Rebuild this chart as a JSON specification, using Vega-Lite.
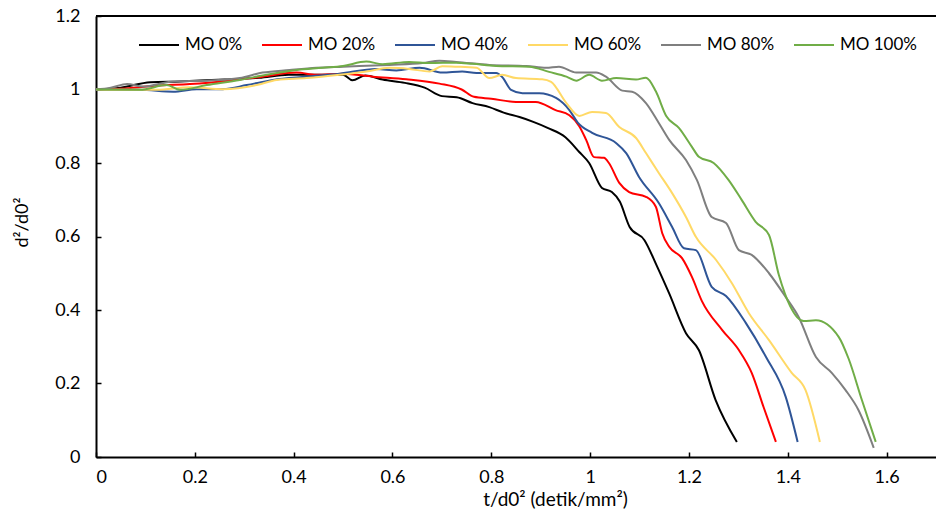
{
  "$schema": "https://vega.github.io/schema/vega-lite/v6.json",
  "autosize": "none",
  "width": 840,
  "height": 441,
  "padding": {"left": 96, "top": 16, "right": 0, "bottom": 59},
  "background": "white",
  "config": {
    "view": {"stroke": null},
    "font": "Lato",
    "axis": {
      "grid": false,
      "domainColor": "#000000",
      "domainWidth": 2,
      "tickColor": "#000000",
      "tickWidth": 1.5,
      "tickSize": -5,
      "labelFont": "Lato",
      "labelFontSize": 18,
      "labelColor": "#000000",
      "titleFont": "Lato",
      "titleFontSize": 18,
      "titleFontWeight": "normal",
      "titleColor": "#000000"
    }
  },
  "data": {
    "values": [
      {"s": "MO 0%", "x": 0, "y": 1},
      {"s": "MO 0%", "x": 0.05, "y": 1.005},
      {"s": "MO 0%", "x": 0.11, "y": 1.02},
      {"s": "MO 0%", "x": 0.17, "y": 1.022},
      {"s": "MO 0%", "x": 0.26, "y": 1.027},
      {"s": "MO 0%", "x": 0.33, "y": 1.032},
      {"s": "MO 0%", "x": 0.39, "y": 1.04},
      {"s": "MO 0%", "x": 0.46, "y": 1.04},
      {"s": "MO 0%", "x": 0.5, "y": 1.04},
      {"s": "MO 0%", "x": 0.519, "y": 1.025},
      {"s": "MO 0%", "x": 0.545, "y": 1.038},
      {"s": "MO 0%", "x": 0.58, "y": 1.027},
      {"s": "MO 0%", "x": 0.625, "y": 1.018},
      {"s": "MO 0%", "x": 0.665, "y": 1.005},
      {"s": "MO 0%", "x": 0.7, "y": 0.982},
      {"s": "MO 0%", "x": 0.73, "y": 0.979},
      {"s": "MO 0%", "x": 0.762, "y": 0.963},
      {"s": "MO 0%", "x": 0.796, "y": 0.952},
      {"s": "MO 0%", "x": 0.825, "y": 0.937},
      {"s": "MO 0%", "x": 0.857, "y": 0.925},
      {"s": "MO 0%", "x": 0.885, "y": 0.912},
      {"s": "MO 0%", "x": 0.915, "y": 0.895},
      {"s": "MO 0%", "x": 0.95, "y": 0.87},
      {"s": "MO 0%", "x": 0.978, "y": 0.83},
      {"s": "MO 0%", "x": 0.998, "y": 0.8},
      {"s": "MO 0%", "x": 1.024, "y": 0.732},
      {"s": "MO 0%", "x": 1.044, "y": 0.721},
      {"s": "MO 0%", "x": 1.06, "y": 0.695},
      {"s": "MO 0%", "x": 1.08, "y": 0.626},
      {"s": "MO 0%", "x": 1.11, "y": 0.59},
      {"s": "MO 0%", "x": 1.135, "y": 0.52},
      {"s": "MO 0%", "x": 1.16, "y": 0.445},
      {"s": "MO 0%", "x": 1.194, "y": 0.337},
      {"s": "MO 0%", "x": 1.22, "y": 0.291},
      {"s": "MO 0%", "x": 1.254, "y": 0.155},
      {"s": "MO 0%", "x": 1.297, "y": 0.041},

      {"s": "MO 20%", "x": 0, "y": 1},
      {"s": "MO 20%", "x": 0.06, "y": 1.003},
      {"s": "MO 20%", "x": 0.12, "y": 1.01},
      {"s": "MO 20%", "x": 0.19, "y": 1.015},
      {"s": "MO 20%", "x": 0.257, "y": 1.022},
      {"s": "MO 20%", "x": 0.337, "y": 1.035},
      {"s": "MO 20%", "x": 0.406, "y": 1.046},
      {"s": "MO 20%", "x": 0.446, "y": 1.04},
      {"s": "MO 20%", "x": 0.5, "y": 1.043},
      {"s": "MO 20%", "x": 0.56, "y": 1.035},
      {"s": "MO 20%", "x": 0.628, "y": 1.028},
      {"s": "MO 20%", "x": 0.695, "y": 1.016},
      {"s": "MO 20%", "x": 0.74, "y": 1.0},
      {"s": "MO 20%", "x": 0.765, "y": 0.98},
      {"s": "MO 20%", "x": 0.8, "y": 0.975},
      {"s": "MO 20%", "x": 0.85, "y": 0.966},
      {"s": "MO 20%", "x": 0.89, "y": 0.966},
      {"s": "MO 20%", "x": 0.93, "y": 0.944},
      {"s": "MO 20%", "x": 0.958, "y": 0.93},
      {"s": "MO 20%", "x": 0.978, "y": 0.9},
      {"s": "MO 20%", "x": 0.992, "y": 0.863},
      {"s": "MO 20%", "x": 1.008, "y": 0.816},
      {"s": "MO 20%", "x": 1.028, "y": 0.814},
      {"s": "MO 20%", "x": 1.038, "y": 0.8},
      {"s": "MO 20%", "x": 1.059, "y": 0.746},
      {"s": "MO 20%", "x": 1.079, "y": 0.721},
      {"s": "MO 20%", "x": 1.113, "y": 0.708},
      {"s": "MO 20%", "x": 1.133, "y": 0.681},
      {"s": "MO 20%", "x": 1.146, "y": 0.609},
      {"s": "MO 20%", "x": 1.16, "y": 0.572},
      {"s": "MO 20%", "x": 1.186, "y": 0.541},
      {"s": "MO 20%", "x": 1.206, "y": 0.49},
      {"s": "MO 20%", "x": 1.226, "y": 0.425},
      {"s": "MO 20%", "x": 1.267, "y": 0.346},
      {"s": "MO 20%", "x": 1.301, "y": 0.291},
      {"s": "MO 20%", "x": 1.327, "y": 0.229},
      {"s": "MO 20%", "x": 1.351, "y": 0.136},
      {"s": "MO 20%", "x": 1.376, "y": 0.041},

      {"s": "MO 40%", "x": 0, "y": 1},
      {"s": "MO 40%", "x": 0.045, "y": 0.999},
      {"s": "MO 40%", "x": 0.089, "y": 0.999},
      {"s": "MO 40%", "x": 0.156, "y": 0.994},
      {"s": "MO 40%", "x": 0.204, "y": 1.001},
      {"s": "MO 40%", "x": 0.257, "y": 1.001},
      {"s": "MO 40%", "x": 0.305, "y": 1.012},
      {"s": "MO 40%", "x": 0.358, "y": 1.026},
      {"s": "MO 40%", "x": 0.426, "y": 1.035},
      {"s": "MO 40%", "x": 0.493, "y": 1.043},
      {"s": "MO 40%", "x": 0.567, "y": 1.056},
      {"s": "MO 40%", "x": 0.608, "y": 1.052},
      {"s": "MO 40%", "x": 0.655, "y": 1.059},
      {"s": "MO 40%", "x": 0.701, "y": 1.046},
      {"s": "MO 40%", "x": 0.741, "y": 1.049},
      {"s": "MO 40%", "x": 0.77, "y": 1.045},
      {"s": "MO 40%", "x": 0.81, "y": 1.045},
      {"s": "MO 40%", "x": 0.822, "y": 1.034},
      {"s": "MO 40%", "x": 0.84, "y": 0.999},
      {"s": "MO 40%", "x": 0.863, "y": 0.99},
      {"s": "MO 40%", "x": 0.897, "y": 0.99},
      {"s": "MO 40%", "x": 0.931, "y": 0.977},
      {"s": "MO 40%", "x": 0.958, "y": 0.944},
      {"s": "MO 40%", "x": 0.975, "y": 0.91},
      {"s": "MO 40%", "x": 1.004, "y": 0.882},
      {"s": "MO 40%", "x": 1.053, "y": 0.854},
      {"s": "MO 40%", "x": 1.073, "y": 0.827},
      {"s": "MO 40%", "x": 1.099, "y": 0.762},
      {"s": "MO 40%", "x": 1.139, "y": 0.691},
      {"s": "MO 40%", "x": 1.166, "y": 0.626},
      {"s": "MO 40%", "x": 1.19, "y": 0.568},
      {"s": "MO 40%", "x": 1.214, "y": 0.563},
      {"s": "MO 40%", "x": 1.246, "y": 0.463},
      {"s": "MO 40%", "x": 1.275, "y": 0.438},
      {"s": "MO 40%", "x": 1.315, "y": 0.365},
      {"s": "MO 40%", "x": 1.356, "y": 0.272},
      {"s": "MO 40%", "x": 1.396, "y": 0.163},
      {"s": "MO 40%", "x": 1.42, "y": 0.041},

      {"s": "MO 60%", "x": 0, "y": 1},
      {"s": "MO 60%", "x": 0.06, "y": 0.999},
      {"s": "MO 60%", "x": 0.123, "y": 0.999},
      {"s": "MO 60%", "x": 0.19, "y": 1.006},
      {"s": "MO 60%", "x": 0.257, "y": 1.001},
      {"s": "MO 60%", "x": 0.325, "y": 1.012},
      {"s": "MO 60%", "x": 0.366, "y": 1.026},
      {"s": "MO 60%", "x": 0.426, "y": 1.031},
      {"s": "MO 60%", "x": 0.493, "y": 1.04},
      {"s": "MO 60%", "x": 0.547, "y": 1.049},
      {"s": "MO 60%", "x": 0.594, "y": 1.059},
      {"s": "MO 60%", "x": 0.634, "y": 1.056},
      {"s": "MO 60%", "x": 0.675, "y": 1.049},
      {"s": "MO 60%", "x": 0.701, "y": 1.063},
      {"s": "MO 60%", "x": 0.729, "y": 1.062},
      {"s": "MO 60%", "x": 0.77, "y": 1.059},
      {"s": "MO 60%", "x": 0.796, "y": 1.031},
      {"s": "MO 60%", "x": 0.822, "y": 1.04},
      {"s": "MO 60%", "x": 0.85, "y": 1.031},
      {"s": "MO 60%", "x": 0.903, "y": 1.028},
      {"s": "MO 60%", "x": 0.921, "y": 1.021},
      {"s": "MO 60%", "x": 0.952, "y": 0.963},
      {"s": "MO 60%", "x": 0.978, "y": 0.928},
      {"s": "MO 60%", "x": 1.004, "y": 0.939},
      {"s": "MO 60%", "x": 1.032, "y": 0.936},
      {"s": "MO 60%", "x": 1.059, "y": 0.898},
      {"s": "MO 60%", "x": 1.093, "y": 0.868},
      {"s": "MO 60%", "x": 1.113, "y": 0.827},
      {"s": "MO 60%", "x": 1.139, "y": 0.773},
      {"s": "MO 60%", "x": 1.166, "y": 0.718},
      {"s": "MO 60%", "x": 1.194, "y": 0.653},
      {"s": "MO 60%", "x": 1.214, "y": 0.599},
      {"s": "MO 60%", "x": 1.255, "y": 0.536},
      {"s": "MO 60%", "x": 1.287, "y": 0.473},
      {"s": "MO 60%", "x": 1.321, "y": 0.392},
      {"s": "MO 60%", "x": 1.362, "y": 0.318},
      {"s": "MO 60%", "x": 1.408, "y": 0.229},
      {"s": "MO 60%", "x": 1.436, "y": 0.182},
      {"s": "MO 60%", "x": 1.465, "y": 0.041},

      {"s": "MO 80%", "x": 0, "y": 1},
      {"s": "MO 80%", "x": 0.03, "y": 1.005},
      {"s": "MO 80%", "x": 0.063, "y": 1.015},
      {"s": "MO 80%", "x": 0.095, "y": 1.008},
      {"s": "MO 80%", "x": 0.156, "y": 1.022},
      {"s": "MO 80%", "x": 0.224, "y": 1.024},
      {"s": "MO 80%", "x": 0.291, "y": 1.031},
      {"s": "MO 80%", "x": 0.337, "y": 1.046},
      {"s": "MO 80%", "x": 0.392, "y": 1.053},
      {"s": "MO 80%", "x": 0.446, "y": 1.059},
      {"s": "MO 80%", "x": 0.5, "y": 1.062},
      {"s": "MO 80%", "x": 0.594, "y": 1.067},
      {"s": "MO 80%", "x": 0.661, "y": 1.072},
      {"s": "MO 80%", "x": 0.695, "y": 1.078},
      {"s": "MO 80%", "x": 0.729, "y": 1.075},
      {"s": "MO 80%", "x": 0.796, "y": 1.067},
      {"s": "MO 80%", "x": 0.871, "y": 1.064},
      {"s": "MO 80%", "x": 0.911, "y": 1.059},
      {"s": "MO 80%", "x": 0.937, "y": 1.062},
      {"s": "MO 80%", "x": 0.972, "y": 1.046},
      {"s": "MO 80%", "x": 1.012, "y": 1.046},
      {"s": "MO 80%", "x": 1.032, "y": 1.035},
      {"s": "MO 80%", "x": 1.065, "y": 0.997},
      {"s": "MO 80%", "x": 1.085, "y": 0.994},
      {"s": "MO 80%", "x": 1.113, "y": 0.963},
      {"s": "MO 80%", "x": 1.139, "y": 0.909},
      {"s": "MO 80%", "x": 1.16, "y": 0.863},
      {"s": "MO 80%", "x": 1.194, "y": 0.808},
      {"s": "MO 80%", "x": 1.216, "y": 0.754},
      {"s": "MO 80%", "x": 1.246, "y": 0.653},
      {"s": "MO 80%", "x": 1.275, "y": 0.637},
      {"s": "MO 80%", "x": 1.301, "y": 0.563},
      {"s": "MO 80%", "x": 1.327, "y": 0.55},
      {"s": "MO 80%", "x": 1.362, "y": 0.5},
      {"s": "MO 80%", "x": 1.396, "y": 0.435},
      {"s": "MO 80%", "x": 1.422, "y": 0.381},
      {"s": "MO 80%", "x": 1.457, "y": 0.272},
      {"s": "MO 80%", "x": 1.489, "y": 0.229},
      {"s": "MO 80%", "x": 1.517, "y": 0.182},
      {"s": "MO 80%", "x": 1.543, "y": 0.128},
      {"s": "MO 80%", "x": 1.574, "y": 0.025},

      {"s": "MO 100%", "x": 0, "y": 1},
      {"s": "MO 100%", "x": 0.089, "y": 0.999},
      {"s": "MO 100%", "x": 0.143, "y": 1.012},
      {"s": "MO 100%", "x": 0.17, "y": 0.999},
      {"s": "MO 100%", "x": 0.224, "y": 1.012},
      {"s": "MO 100%", "x": 0.291, "y": 1.026},
      {"s": "MO 100%", "x": 0.345, "y": 1.04},
      {"s": "MO 100%", "x": 0.406, "y": 1.053},
      {"s": "MO 100%", "x": 0.459, "y": 1.059},
      {"s": "MO 100%", "x": 0.5, "y": 1.064},
      {"s": "MO 100%", "x": 0.547, "y": 1.076},
      {"s": "MO 100%", "x": 0.58, "y": 1.069},
      {"s": "MO 100%", "x": 0.634, "y": 1.075},
      {"s": "MO 100%", "x": 0.675, "y": 1.072},
      {"s": "MO 100%", "x": 0.729, "y": 1.073},
      {"s": "MO 100%", "x": 0.762, "y": 1.07},
      {"s": "MO 100%", "x": 0.81, "y": 1.064},
      {"s": "MO 100%", "x": 0.877, "y": 1.062},
      {"s": "MO 100%", "x": 0.917, "y": 1.048},
      {"s": "MO 100%", "x": 0.952, "y": 1.035},
      {"s": "MO 100%", "x": 0.972, "y": 1.024},
      {"s": "MO 100%", "x": 0.998, "y": 1.04},
      {"s": "MO 100%", "x": 1.024, "y": 1.024},
      {"s": "MO 100%", "x": 1.053, "y": 1.031},
      {"s": "MO 100%", "x": 1.093, "y": 1.027},
      {"s": "MO 100%", "x": 1.113, "y": 1.032},
      {"s": "MO 100%", "x": 1.133, "y": 0.995},
      {"s": "MO 100%", "x": 1.154, "y": 0.928},
      {"s": "MO 100%", "x": 1.18, "y": 0.895},
      {"s": "MO 100%", "x": 1.206, "y": 0.844},
      {"s": "MO 100%", "x": 1.22, "y": 0.817},
      {"s": "MO 100%", "x": 1.25, "y": 0.8},
      {"s": "MO 100%", "x": 1.28, "y": 0.754},
      {"s": "MO 100%", "x": 1.307, "y": 0.699},
      {"s": "MO 100%", "x": 1.335, "y": 0.64},
      {"s": "MO 100%", "x": 1.362, "y": 0.604},
      {"s": "MO 100%", "x": 1.382, "y": 0.495},
      {"s": "MO 100%", "x": 1.405, "y": 0.41},
      {"s": "MO 100%", "x": 1.432, "y": 0.37},
      {"s": "MO 100%", "x": 1.457, "y": 0.372},
      {"s": "MO 100%", "x": 1.503, "y": 0.327},
      {"s": "MO 100%", "x": 1.523, "y": 0.268},
      {"s": "MO 100%", "x": 1.55, "y": 0.155},
      {"s": "MO 100%", "x": 1.578, "y": 0.041}
    ]
  },
  "layer": [
    {
      "mark": {"type": "rule", "color": "#000000", "strokeWidth": 1.5},
      "encoding": {"y": {"datum": 1.2, "type": "quantitative"}}
    },
    {
      "mark": {"type": "line", "strokeWidth": 2, "interpolate": "monotone"},
      "encoding": {
        "x": {
          "field": "x",
          "type": "quantitative",
          "scale": {"domain": [0, 1.7], "nice": false},
          "axis": {
            "values": [0, 0.2, 0.4, 0.6, 0.8, 1, 1.2, 1.4, 1.6],
            "format": ".2~f",
            "labelPadding": 16,
            "title": "t/d0² (detik/mm²)",
            "titleFontSize": 19,
            "titleX": 459,
            "titleAlign": "center",
            "titlePadding": 4
          }
        },
        "y": {
          "field": "y",
          "type": "quantitative",
          "scale": {"domain": [0, 1.2], "nice": false},
          "axis": {
            "values": [0, 0.2, 0.4, 0.6, 0.8, 1, 1.2],
            "format": ".2~f",
            "labelPadding": 21,
            "title": "d²/d0²",
            "titleY": 206,
            "titleAlign": "center",
            "titlePadding": 23
          }
        },
        "color": {
          "field": "s",
          "type": "nominal",
          "sort": null,
          "scale": {
            "domain": ["MO 0%", "MO 20%", "MO 40%", "MO 60%", "MO 80%", "MO 100%"],
            "range": ["#000000", "#FF0000", "#2F5597", "#FFD966", "#7F7F7F", "#70AD47"]
          },
          "legend": {
            "orient": "none",
            "legendX": 42,
            "legendY": 8,
            "direction": "horizontal",
            "title": null,
            "symbolType": "stroke",
            "symbolSize": 1600,
            "symbolStrokeWidth": 2,
            "labelFont": "Lato",
            "labelFontSize": 17,
            "labelColor": "#000000",
            "labelOffset": 5,
            "columnPadding": 15,
            "padding": 0
          }
        }
      }
    }
  ]
}
